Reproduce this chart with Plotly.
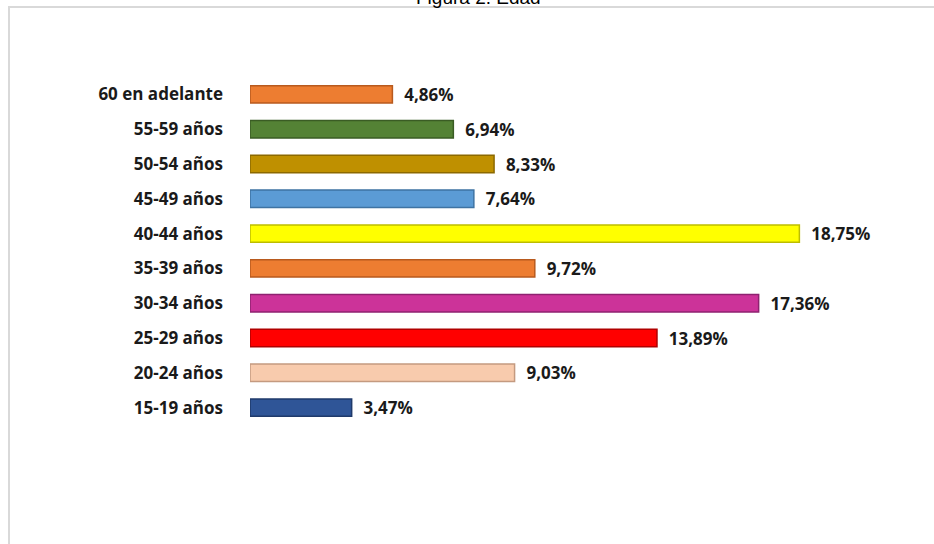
import plotly.graph_objects as go

categories = ["15-19 años", "20-24 años", "25-29 años", "30-34 años", "35-39 años",
              "40-44 años", "45-49 años", "50-54 años", "55-59 años", "60 en adelante"]
values = [3.47, 9.03, 13.89, 17.36, 9.72, 18.75, 7.64, 8.33, 6.94, 4.86]
colors = ["#2F5597", "#F8CBAD", "#FF0000", "#CC3399", "#ED7D31",
          "#FFFF00", "#5B9BD5", "#BF9000", "#548235", "#ED7D31"]
edge_colors = ["#1F3A6B", "#C49A80", "#B00000", "#8E2270", "#B85A1E",
               "#BDBD00", "#3E73A3", "#8C6900", "#3A5C24", "#B85A1E"]

W, H = 934, 544
ML, MR, MT, MB = 250, 34, 77, 119

fig = go.Figure(go.Bar(
    y=categories, x=values, orientation="h",
    marker=dict(color=colors, line=dict(color=edge_colors, width=1.5)),
    width=0.5,
    text=["  " + f"{v:.2f}".replace(".", ",") + "%" for v in values],
    textposition="outside",
    constraintext="none",
    textfont=dict(family="Open Sans, Liberation Sans, sans-serif", size=17, color="#1a1a1a", weight="bold"),
    cliponaxis=False,
    hoverinfo="skip",
))

pw = W - ML - MR
ph = H - MT - MB

fig.update_layout(
    width=W, height=H,
    margin=dict(l=ML, r=MR, t=MT, b=MB, autoexpand=False),
    paper_bgcolor="white", plot_bgcolor="white",
    showlegend=False,
    xaxis=dict(range=[0, pw / 29.3], visible=False, fixedrange=True, automargin=False),
    yaxis=dict(showline=False, showgrid=False, zeroline=False, ticks="",
               automargin=False, fixedrange=True,
               ticklabelstandoff=26,
               tickfont=dict(family="Open Sans, Liberation Sans, sans-serif", size=17, color="#1a1a1a", weight="bold"),
               range=[-0.5, 9.5]),
    shapes=[dict(type="rect", xref="paper", yref="paper",
                 x0=(9 - ML) / pw, x1=(W + 5 - ML) / pw,
                 y0=(H - MB - (H + 5)) / ph, y1=(H - MB - 7) / ph,
                 line=dict(color="#D9D9D9", width=2), fillcolor="rgba(0,0,0,0)", layer="below")],
    annotations=[dict(text="Figura 2. Edad", xref="paper", yref="paper",
                      x=(478 - ML) / pw, y=(H - MB + 2) / ph, xanchor="center", yanchor="middle",
                      showarrow=False, font=dict(family="Liberation Sans, Arial, sans-serif", size=19, color="#000"))],
)

fig.write_html("out.html", config={"displayModeBar": False},
               post_script="document.body.style.margin='0';")
